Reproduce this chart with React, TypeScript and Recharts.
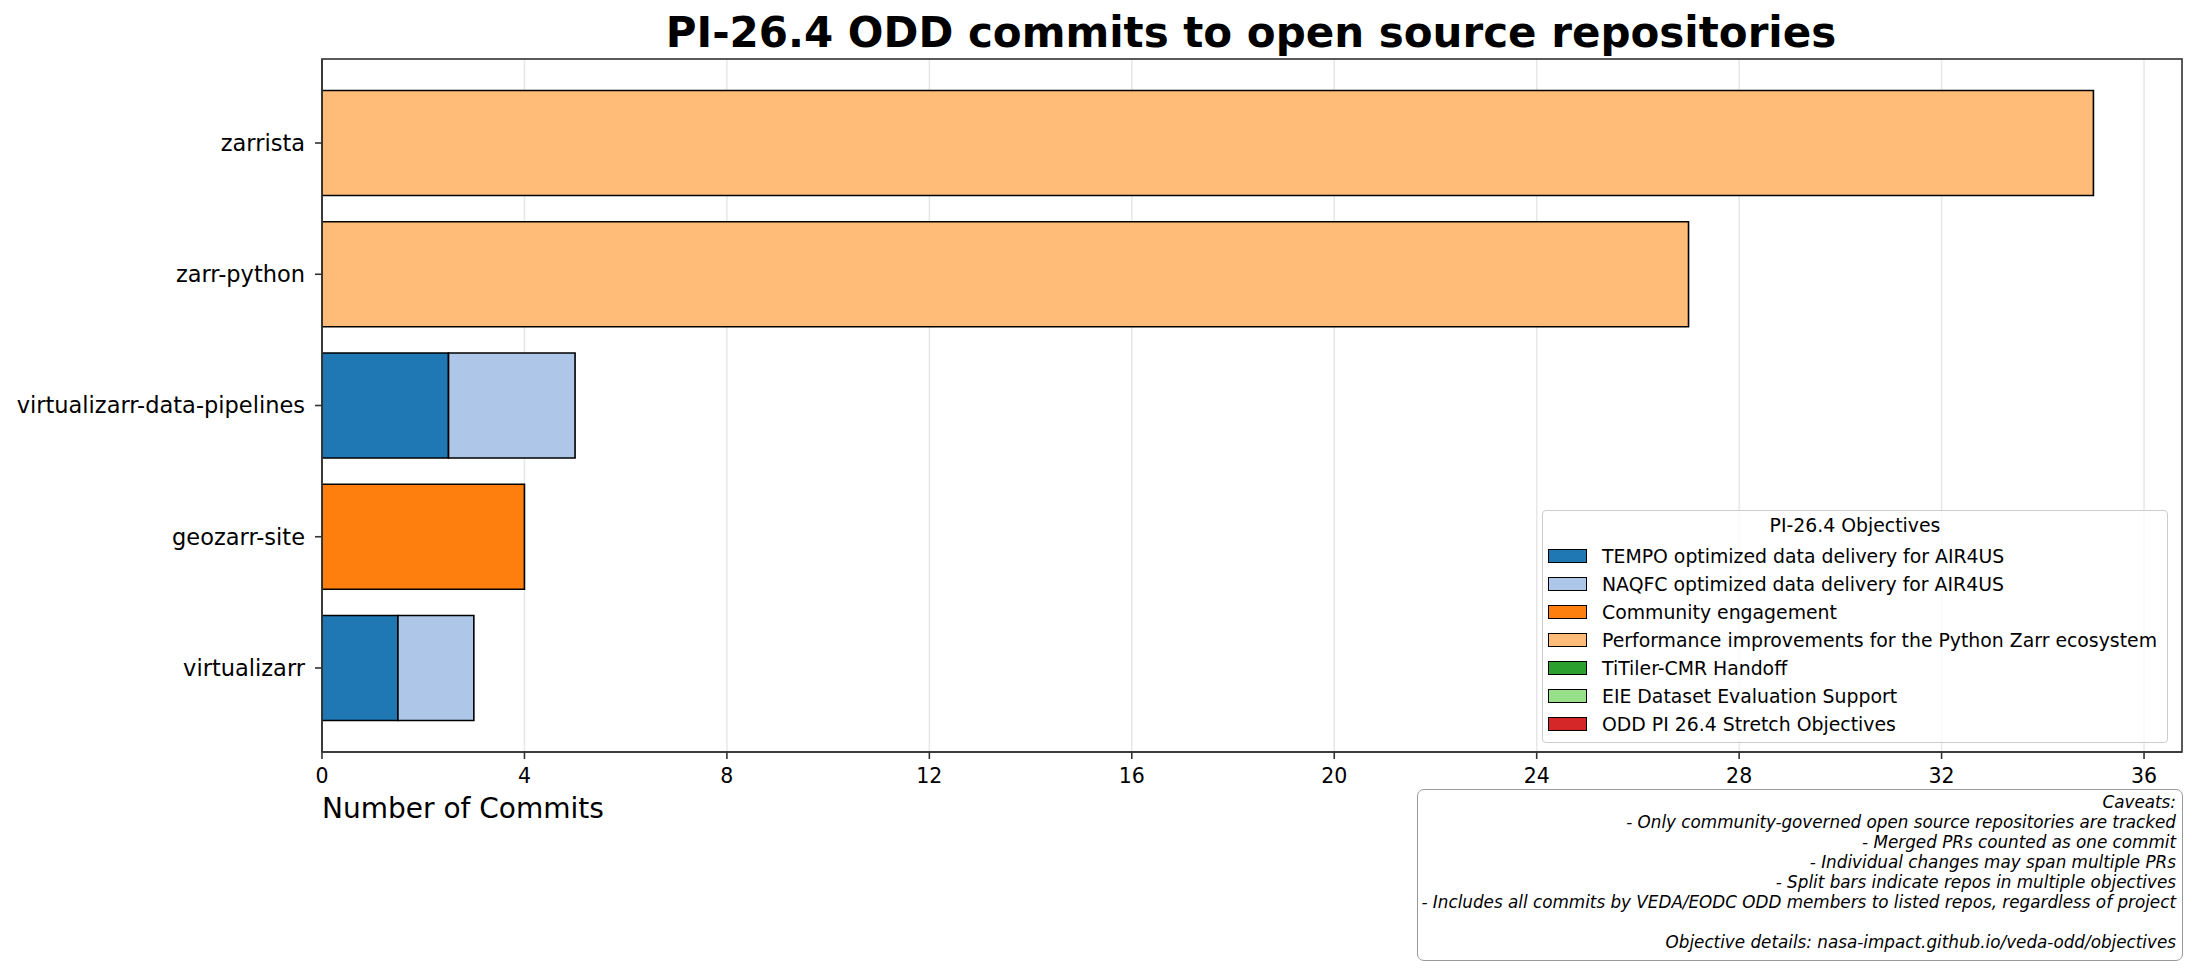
import { Bar, BarChart, CartesianGrid, Legend, XAxis, YAxis } from "recharts";

const repos = [
  "zarrista",
  "zarr-python",
  "virtualizarr-data-pipelines",
  "geozarr-site",
  "virtualizarr",
];

// commits per objective, same order as repos
const tempo = [0, 0, 2.5, 0, 1.5];
const naqfc = [0, 0, 2.5, 0, 1.5];
const community = [0, 0, 0, 4, 0];
const performance = [35, 27, 0, 0, 0];
const titiler = [0, 0, 0, 0, 0];
const eie = [0, 0, 0, 0, 0];
const stretch = [0, 0, 0, 0, 0];

const xTicks = [0, 4, 8, 12, 16, 20, 24, 28, 32, 36];

const caveats = [
  "Caveats:",
  "- Only community-governed open source repositories are tracked",
  "- Merged PRs counted as one commit",
  "- Individual changes may span multiple PRs",
  "- Split bars indicate repos in multiple objectives",
  "- Includes all commits by VEDA/EODC ODD members to listed repos, regardless of project",
  "",
  "Objective details: nasa-impact.github.io/veda-odd/objectives",
];

const series = [
  { key: "tempo", name: "TEMPO optimized data delivery for AIR4US", color: "#1f77b4", values: tempo },
  { key: "naqfc", name: "NAQFC optimized data delivery for AIR4US", color: "#aec7e8", values: naqfc },
  { key: "community", name: "Community engagement", color: "#ff7f0e", values: community },
  { key: "performance", name: "Performance improvements for the Python Zarr ecosystem", color: "#ffbb78", values: performance },
  { key: "titiler", name: "TiTiler-CMR Handoff", color: "#2ca02c", values: titiler },
  { key: "eie", name: "EIE Dataset Evaluation Support", color: "#98df8a", values: eie },
  { key: "stretch", name: "ODD PI 26.4 Stretch Objectives", color: "#d62728", values: stretch },
];

const data = repos.map((repo, i) => {
  const row: Record<string, string | number> = { repo };
  series.forEach((s) => {
    row[s.key] = s.values[i];
  });
  return row;
});

const FONT = "'DejaVu Sans', Verdana, sans-serif";
const SPINE = "#333333";

// plot frame (matplotlib draws all four spines)
const PLOT = { left: 322, top: 59, right: 2182, bottom: 752 };
const LEGEND_BOX = { left: 1542, top: 510, width: 626, height: 233 };

function ObjectivesLegend() {
  return (
    <div
      style={{
        boxSizing: "border-box",
        width: LEGEND_BOX.width,
        height: LEGEND_BOX.height,
        border: "1.3px solid #cccccc",
        borderRadius: 4,
        background: "rgba(255,255,255,0.8)",
        fontFamily: FONT,
        fontSize: 18.85,
        color: "#000",
        paddingTop: 1,
      }}
    >
      <div style={{ height: 28, lineHeight: "28px", textAlign: "center" }}>PI-26.4 Objectives</div>
      <div style={{ height: 2 }} />
      {series.map((s) => (
        <div key={s.key} style={{ height: 28, display: "flex", alignItems: "center", whiteSpace: "nowrap" }}>
          <span
            style={{
              boxSizing: "border-box",
              display: "inline-block",
              flex: "none",
              width: 39,
              height: 14,
              marginLeft: 5,
              marginRight: 15,
              background: s.color,
              border: "1.6px solid #000",
            }}
          />
          <span>{s.name}</span>
        </div>
      ))}
    </div>
  );
}

export default function App() {
  return (
    <div style={{ position: "absolute", left: 0, top: 0, width: 2196, height: 971, background: "#fff" }}>
      <BarChart
        width={2196}
        height={971}
        data={data}
        layout="vertical"
        margin={{ top: PLOT.top, right: 2196 - PLOT.right, bottom: 971 - PLOT.bottom - 40, left: 0 }}
        barCategoryGap="10%"
      >
        <XAxis
          type="number"
          domain={[0, 36.75]}
          ticks={xTicks}
          interval={0}
          height={40}
          stroke={SPINE}
          strokeWidth={1.6}
          tickSize={7}
          tickMargin={9}
          tick={{ fill: "#000", fontSize: 20.5, fontFamily: FONT }}
          allowDataOverflow
        />
        <YAxis
          type="category"
          dataKey="repo"
          width={PLOT.left}
          padding={{ top: 18.4, bottom: 18.4 }}
          stroke={SPINE}
          strokeWidth={1.6}
          tickSize={7}
          tickMargin={10}
          tick={{ fill: "#000", fontSize: 22.5, fontFamily: FONT }}
          interval={0}
        />
        {series.map((s) => (
          <Bar
            key={s.key}
            dataKey={s.key}
            name={s.name}
            stackId="objectives"
            fill={s.color}
            stroke="#000"
            strokeWidth={1.6}
            isAnimationActive={false}
          />
        ))}
        <CartesianGrid
          horizontal={false}
          stroke="#b0b0b0"
          strokeOpacity={0.3}
          strokeWidth={1.5}
          zIndex={1}
        />
        <Legend
          layout="vertical"
          align="center"
          verticalAlign="middle"
          wrapperStyle={{
            left: LEGEND_BOX.left,
            top: LEGEND_BOX.top,
            width: LEGEND_BOX.width,
            height: LEGEND_BOX.height,
          }}
          content={() => <ObjectivesLegend />}
        />
      </BarChart>

      <svg
        width={2196}
        height={971}
        style={{ position: "absolute", left: 0, top: 0, pointerEvents: "none" }}
      >
        <rect
          x={PLOT.left}
          y={PLOT.top}
          width={PLOT.right - PLOT.left}
          height={PLOT.bottom - PLOT.top}
          fill="none"
          stroke={SPINE}
          strokeWidth={1.6}
        />
        <text x={1251} y={46.7} textAnchor="middle" fontFamily={FONT} fontWeight="bold" fontSize={42} fill="#000">
          PI-26.4 ODD commits to open source repositories
        </text>
        <text x={322} y={818} fontFamily={FONT} fontSize={28} fill="#000">
          Number of Commits
        </text>
      </svg>

      <div
        style={{
          position: "absolute",
          left: 1417,
          top: 789,
          width: 766,
          height: 172,
          boxSizing: "border-box",
          border: "1.5px solid #9a9a9a",
          borderRadius: 7,
          background: "#fff",
          padding: "2px 6px 0 0",
          textAlign: "right",
          fontFamily: FONT,
          fontStyle: "italic",
          fontSize: 16.8,
          lineHeight: "20px",
          color: "#000",
          whiteSpace: "nowrap",
        }}
      >
        {caveats.map((line, i) => (
          <div key={i} style={{ height: 20 }}>
            {line}
          </div>
        ))}
      </div>
    </div>
  );
}
